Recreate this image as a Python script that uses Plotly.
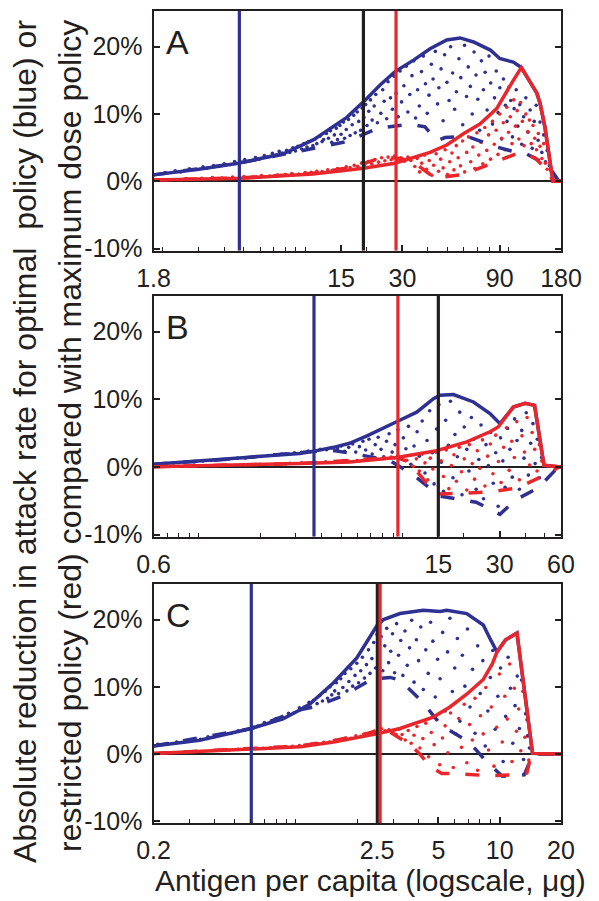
import math
import plotly.graph_objects as go

BLUE = "#2E3192"
RED = "#E8262B"
BLACK = "#231F20"
FONT = "Liberation Sans, Arial, sans-serif"

# ---------------- panel A ----------------
A_range = [1.8, 180]
A_ticks = [1.8, 15, 30, 90, 180]
A_vblue, A_vblack, A_vred = 4.75, 19.3, 27.9
A_blue_x = [1.8, 3.0, 4.7, 7.8, 11, 16, 19.3, 23.3, 27.6, 34, 41, 49.5, 57.5, 67, 81, 90, 105, 115, 137, 142, 150, 156, 162, 165, 180]
A_blue_y = [0.96, 1.8, 2.7, 4.1, 6.2, 9.5, 11.8, 14.3, 16.3, 18.0, 19.7, 21.0, 21.3, 20.7, 19.5, 18.25, 17.7, 16.9, 13.1, 11.6, 8.1, 4.2, 1.2, 0, 0]
A_bdash_x = [1.8, 4.7, 6.7, 7.5, 10.5, 16, 22.8, 32.7, 38.7, 44.3, 48.5, 62, 87, 103, 120, 142, 162.6, 176, 180]
A_bdash_y = [0.96, 2.7, 3.6, 3.9, 4.7, 5.9, 7.9, 8.5, 8.1, 6.0, 6.5, 6.7, 5.1, 4.5, 4.2, 3.0, 1.5, 0, 0]
A_red_x = [1.8, 4.8, 10.9, 19.3, 27.5, 34, 41, 49.5, 60, 72, 87, 105, 115, 137, 142, 150, 156, 162, 165, 180]
A_red_y = [0.2, 0.45, 1.1, 1.95, 2.7, 3.5, 4.3, 5.4, 7.1, 8.5, 10.8, 15.0, 16.9, 13.1, 11.6, 8.1, 4.2, 1.2, 0, 0]
A_rdash_x = [1.8, 4.8, 10.9, 16.6, 24.1, 29.2, 33.8, 38.7, 43.3, 59.5, 85.4, 113, 134, 157, 164, 180]
A_rdash_y = [0.2, 0.5, 1.2, 2.0, 3.6, 3.4, 2.9, 1.5, 0.5, 1.0, 2.9, 4.3, 3.5, 1.4, 0, 0]
A_blue_dots = [
    (2.05, 1.3), (2.3, 1.55), (2.45, 1.4), (2.7, 1.85), (2.9, 1.75), (3.15, 2.15), (3.3, 1.95), (3.55, 2.35),
    (3.75, 2.2), (4.0, 2.6), (4.3, 2.5), (4.5, 2.95), (4.85, 2.85), (5.05, 3.25), (5.4, 3.05), (5.7, 3.55),
    (5.95, 3.3), (6.3, 3.85), (6.55, 3.6), (6.9, 4.15), (7.2, 3.9), (7.45, 4.45),
    (7.7, 4.2), (8.1, 4.6), (8.4, 4.3), (8.7, 5.0), (8.95, 4.5), (9.2, 5.2), (9.6, 4.8), (9.85, 5.6), (10.2, 5.1),
    (10.4, 5.9), (10.9, 5.3), (11.2, 6.3), (11.4, 5.6), (11.8, 6.7), (12.1, 5.9), (12.3, 6.2), (12.7, 7.1),
    (13.0, 6.4), (13.3, 7.5), (13.5, 5.8), (13.9, 6.9), (14.2, 7.9), (14.4, 6.2), (14.8, 8.3), (15.0, 7.0),
    (15.4, 8.8), (15.6, 6.4), (15.9, 7.7), (16.3, 9.2), (16.6, 6.8), (17.0, 8.4), (17.3, 9.8), (17.6, 7.2),
    (18.0, 10.3), (18.3, 8.9), (18.7, 7.6), (19.0, 10.9), (19.4, 9.5), (19.8, 11.4), (20.1, 8.3), (20.5, 10.4),
    (20.9, 12.1), (21.3, 9.1), (21.8, 11.2), (22.2, 12.9), (22.6, 8.7),
    (23.5, 10.1), (24.0, 13.6), (24.4, 11.9), (25.1, 9.3), (25.5, 14.8), (26.2, 12.4), (26.8, 10.7), (27.3, 15.6),
    (27.9, 13.1), (28.6, 9.6), (29.2, 16.4), (29.7, 11.8), (30.5, 14.2), (31.3, 17.1), (31.9, 10.3), (32.6, 12.9),
    (33.4, 15.7), (34.1, 17.9), (34.8, 9.4), (35.6, 13.6), (36.3, 11.2), (37.2, 16.3), (38.0, 18.6), (38.9, 14.5),
    (39.7, 10.1), (40.5, 12.8), (41.6, 17.4), (42.4, 15.2), (43.5, 19.3), (44.6, 11.5), (45.3, 13.9), (46.4, 16.7),
    (47.5, 9.0), (48.3, 18.8), (49.6, 14.7), (50.8, 12.0), (51.7, 20.0), (52.9, 16.1), (54.1, 10.7), (55.2, 13.3),
    (56.8, 18.2), (58.0, 15.4), (59.3, 8.4), (60.5, 20.2), (61.9, 12.6), (63.1, 17.0), (64.6, 14.1), (66.0, 10.0),
    (67.4, 19.2), (68.9, 15.8), (70.3, 12.2), (71.8, 7.6), (73.2, 17.9), (74.9, 13.6), (76.4, 16.2), (78.1, 10.6),
    (79.8, 18.6), (81.3, 14.6), (83.0, 8.5), (84.9, 12.4), (86.6, 16.4), (88.4, 10.2), (90.2, 13.9), (92.1, 6.3),
    (93.9, 15.2), (96.0, 11.3), (97.8, 8.9), (100, 14.0), (102, 12.0), (104, 6.6), (106, 10.8), (108.5, 13.6),
    (110.5, 8.2), (113, 11.4), (115.5, 5.5), (118, 9.6), (121, 12.4), (124, 7.3), (127, 10.6), (130, 4.9),
    (133, 8.9), (136, 11.3), (139, 6.1), (142, 8.8), (145, 4.3), (148, 6.9), (151, 2.9), (154, 4.6), (158, 2.3),
    (161, 1.6),
]
A_red_dots = [
    (2.6, 0.4), (3.1, 0.45), (3.5, 0.55), (3.9, 0.5), (4.4, 0.65), (5.0, 0.7), (5.5, 0.65), (6.1, 0.85), (6.7, 0.8),
    (7.3, 0.95), (8.0, 1.0), (8.6, 1.15), (9.3, 1.1), (10.0, 1.3), (10.7, 1.35), (11.4, 1.5), (12.1, 1.45),
    (12.9, 1.7), (13.6, 1.65), (14.4, 1.9), (15.1, 1.85), (15.9, 2.15), (16.6, 2.05), (17.4, 2.4), (18.1, 2.25),
    (18.9, 2.7), (19.6, 2.45), (20.4, 2.95), (21.2, 2.6), (22.0, 3.25), (22.9, 2.85), (23.7, 3.5), (24.6, 3.05),
    (25.5, 3.6), (26.4, 3.2), (27.4, 3.75), (28.4, 3.3), (29.5, 3.5), (30.7, 3.0), (31.9, 3.6), (33.0, 3.1),
    (34.5, 2.2), (35.4, 3.4), (36.4, 1.4), (37.3, 2.7), (38.5, 3.9), (39.4, 1.8), (40.6, 3.1), (41.8, 0.9),
    (42.7, 2.4), (43.9, 4.1), (45.1, 1.5), (46.2, 3.3), (47.5, 2.0), (48.6, 4.7), (49.9, 1.0), (51.2, 2.9),
    (52.5, 4.2), (53.7, 1.7), (55.1, 5.3), (56.3, 3.5), (57.8, 2.3), (59.2, 6.0), (60.6, 1.4), (62.0, 4.3),
    (63.3, 6.6), (64.9, 2.9), (66.5, 5.1), (68.0, 1.9), (69.6, 7.2), (71.1, 3.9), (72.8, 5.8), (74.4, 2.6),
    (76.1, 8.0), (77.8, 4.6), (79.4, 6.9), (81.2, 3.3), (83.0, 8.9), (84.7, 5.5), (86.5, 7.6), (88.3, 4.0),
    (90.1, 10.0), (92.0, 6.4), (93.8, 8.7), (95.7, 4.7), (97.6, 11.0), (99.5, 7.3), (101.5, 9.6), (103.5, 5.6),
    (105.5, 12.1), (107.6, 8.2), (109.7, 10.5), (111.8, 6.3), (114, 11.7), (116.3, 8.9), (118.6, 5.3), (121, 10.0),
    (123.5, 7.4), (126, 9.1), (128.6, 5.6), (131.2, 8.3), (133.8, 6.4), (136.5, 4.7), (139.3, 7.1), (142, 5.2),
    (145, 3.4), (148, 5.6), (151, 2.7), (154, 1.8),
]

# ---------------- panel B ----------------
B_range = [0.6, 60]
B_ticks = [0.6, 15, 30, 60]
B_vblue, B_vblack, B_vred = 3.68, 15.0, 9.5
B_blue_x = [0.6, 1.47, 3.14, 3.64, 4.6, 5.5, 6.7, 9.7, 11.75, 14.2, 15.3, 17.8, 22.3, 26.9, 30.1, 35, 40, 44.5, 49.5, 60]
B_blue_y = [0.4, 1.2, 2.0, 2.3, 2.9, 3.5, 4.6, 6.9, 8.1, 10.1, 10.6, 10.7, 9.6, 7.9, 6.4, 8.85, 9.4, 9.1, 0.25, 0]
B_bdash_x = [0.6, 1.47, 3.64, 4.67, 5.65, 8.6, 11.1, 14.3, 15.3, 23.0, 30.1, 35.7, 46.3, 56.1, 60]
B_bdash_y = [0.4, 1.2, 2.3, 2.4, 2.0, 1.0, -1.0, -3.7, -4.3, -5.2, -7.0, -4.9, -3.1, -0.5, 0]
B_red_x = [0.6, 2.15, 3.14, 5.5, 9.37, 14.7, 20.7, 26.9, 29.5, 35, 40, 44.5, 49.5, 60]
B_red_y = [0.05, 0.35, 0.5, 0.75, 1.4, 2.4, 3.7, 5.2, 5.9, 8.85, 9.4, 9.1, 0.25, 0]
B_rdash_x = [0.6, 3.14, 9.37, 10.65, 12.2, 13.7, 15.3, 19.2, 26.9, 36.5, 50.1, 58.7, 60]
B_rdash_y = [0.05, 0.5, 1.4, 0.8, -1.2, -3.1, -4.0, -3.9, -3.7, -3.1, -1.2, 0, 0]
B_blue_dots = [
    (0.75, 0.6), (0.85, 0.7), (0.95, 0.75), (1.05, 0.9), (1.15, 0.95), (1.3, 1.1), (1.4, 1.15), (1.55, 1.3),
    (1.7, 1.35), (1.85, 1.5), (2.0, 1.55), (2.2, 1.7), (2.35, 1.75), (2.55, 1.9), (2.75, 1.95), (2.95, 2.1),
    (3.2, 2.15), (3.45, 2.35), (3.7, 2.4), (3.95, 2.6), (4.25, 2.55), (4.5, 2.8),
    (4.8, 2.7), (5.0, 3.1), (5.2, 2.3), (5.45, 2.9), (5.7, 3.4), (5.9, 2.2), (6.15, 3.0), (6.4, 3.8), (6.6, 2.5),
    (6.85, 4.1), (7.1, 1.9), (7.35, 3.3), (7.6, 4.4), (7.85, 2.6), (8.1, 1.5), (8.35, 3.8), (8.6, 4.9), (8.9, 2.2),
    (9.2, 3.3), (9.5, 5.5), (9.8, 1.3), (10.1, 4.3), (10.4, 2.7), (10.7, 6.0), (11.0, 0.4),
    (11.4, 3.1), (11.8, 5.2), (12.1, 1.6), (12.5, 6.8), (12.9, -0.9), (13.2, 3.9), (13.6, 8.3), (14.0, 2.1),
    (14.3, -2.5), (14.7, 5.6), (15.1, 9.2), (15.5, 0.7), (15.9, -3.6), (16.3, 6.9), (16.8, 3.2), (17.2, 9.7),
    (17.7, -1.6), (18.1, 4.8), (18.6, 1.5), (19.1, 8.1), (19.6, -4.1), (20.1, 5.9), (20.7, 2.6), (21.2, -0.6),
    (21.8, 7.3), (22.4, 4.1), (23.0, -3.3), (23.7, 1.1), (24.3, 6.2), (25.0, -4.7), (25.7, 3.3), (26.4, 0.2),
    (27.1, 5.1), (27.9, -2.4), (28.7, 2.1), (29.5, -5.8), (30.3, 4.3), (31.1, 0.9), (31.9, -3.0), (32.8, 5.7),
    (33.7, 2.6), (34.6, -1.5), (35.5, 7.1), (36.5, 3.9), (37.5, -3.3), (38.5, 5.4), (39.5, 1.3), (40.5, 8.0),
    (41.5, -1.2), (42.6, 3.5), (43.7, 6.4), (44.8, 0.5), (45.9, 4.1), (47.0, -1.6), (48.2, 1.4),
]
B_red_dots = [
    (1.6, 0.3), (2.0, 0.4), (2.4, 0.45), (2.8, 0.55), (3.2, 0.6), (3.7, 0.65), (4.2, 0.75), (4.8, 0.8), (5.4, 0.9),
    (6.0, 0.95), (6.7, 1.1), (7.4, 1.15), (8.1, 1.35), (8.8, 1.45), (9.5, 1.7), (10.1, 1.5),
    (10.5, 1.0), (10.9, 1.7), (11.3, 0.1), (11.7, 1.2), (12.1, -0.6), (12.5, 1.9), (12.9, 0.6), (13.3, -1.9),
    (13.7, 1.3), (14.1, -0.3), (14.6, 2.2), (15.0, -2.8), (15.5, 0.9), (15.9, -1.4), (16.4, 2.5), (16.9, -3.2),
    (17.4, 0.2), (17.9, 1.8), (18.4, -2.1), (19.0, 2.9), (19.5, -0.7), (20.1, 1.2), (20.7, -3.4), (21.3, 3.3),
    (22.0, 0.5), (22.6, -1.8), (23.3, 2.4), (24.0, -0.2), (24.7, 4.0), (25.4, -2.8), (26.2, 1.6), (27.0, 3.4),
    (27.8, -1.0), (28.7, 4.7), (29.6, 0.8), (30.5, -2.3), (31.4, 2.9), (32.4, 5.8), (33.4, -0.5), (34.4, 3.8),
    (35.4, 1.4), (36.4, 6.7), (37.5, -1.9), (38.6, 4.6), (39.7, 2.2), (40.9, 7.3), (42.1, 0.3), (43.3, 5.1),
    (44.6, 2.6), (45.8, -0.6), (47.0, 3.3), (48.3, 0.9),
]

# ---------------- panel C ----------------
C_range = [0.2, 20]
C_ticks = [0.2, 2.5, 5, 10, 20]
C_vblue, C_vblack, C_vred = 0.604, 2.51, 2.59
C_blue_x = [0.2, 0.337, 0.604, 0.864, 1.05, 1.17, 1.53, 1.99, 2.51, 2.69, 3.24, 4.22, 5.1, 5.5, 6.89, 8.31, 8.96, 9.7, 10.7, 12.16, 14.5, 20]
C_blue_y = [1.2, 2.05, 3.8, 5.25, 6.6, 7.45, 10.6, 14.3, 19.2, 20.0, 20.9, 21.4, 21.2, 21.4, 20.9, 19.2, 17.2, 15.2, 17.0, 18.0, 0.1, 0]
C_bdash_x = [0.2, 0.604, 1.05, 1.22, 1.71, 2.35, 2.9, 3.24, 4.2, 5.15, 7.07, 8.67, 10.3, 13.2, 14.6, 20]
C_bdash_y = [1.2, 3.8, 6.6, 7.0, 8.7, 11.1, 11.4, 11.0, 7.7, 4.3, 1.8, -1.2, -3.3, -3.1, 0, 0]
C_red_x = [0.2, 0.604, 1.05, 1.53, 2.49, 3.24, 4.72, 5.7, 6.89, 8.31, 9.2, 9.7, 10.7, 12.16, 14.5, 20]
C_red_y = [0.1, 0.7, 1.07, 1.8, 3.0, 3.8, 5.5, 7.0, 8.9, 11.1, 13.4, 15.2, 17.0, 18.0, 0.1, 0]
C_rdash_x = [0.2, 0.6, 1.05, 1.53, 2.2, 2.69, 3.0, 3.59, 4.0, 4.6, 5.2, 6.1, 8.57, 12.7, 13.6, 14.3, 20]
C_rdash_y = [0.1, 0.75, 1.2, 2.0, 3.0, 3.8, 3.0, 1.5, 0.2, -1.9, -2.9, -2.9, -3.2, -3.1, -2.8, 0, 0]
C_blue_dots = [
    (0.21, 1.45), (0.235, 1.55), (0.26, 1.8), (0.285, 1.85), (0.31, 2.15), (0.34, 2.2), (0.37, 2.55), (0.4, 2.6),
    (0.44, 2.95), (0.48, 3.05), (0.52, 3.45), (0.56, 3.55), (0.61, 4.1), (0.65, 4.15), (0.7, 4.7), (0.75, 4.75),
    (0.8, 5.3), (0.86, 5.45), (0.92, 6.05), (0.98, 6.15), (1.04, 6.9), (1.1, 7.0), (1.16, 7.7),
    (1.22, 8.0), (1.27, 7.5), (1.31, 8.7), (1.35, 7.9), (1.39, 9.3), (1.43, 8.3), (1.47, 10.0), (1.5, 8.8),
    (1.55, 9.4), (1.58, 10.6), (1.62, 9.0), (1.66, 11.2), (1.7, 9.9), (1.74, 12.0), (1.78, 9.4), (1.82, 10.8),
    (1.86, 12.7), (1.9, 10.1), (1.95, 11.7), (1.99, 13.5), (2.03, 10.6), (2.08, 12.4), (2.12, 14.4), (2.17, 11.3),
    (2.22, 13.3), (2.27, 15.5), (2.31, 12.0), (2.36, 14.2), (2.41, 16.6), (2.46, 12.8), (2.5, 17.8),
    (2.56, 14.8), (2.62, 17.5), (2.67, 12.4), (2.73, 16.1), (2.79, 18.7), (2.85, 13.6), (2.92, 15.3), (2.98, 17.9),
    (3.05, 12.1), (3.12, 19.4), (3.19, 14.7), (3.27, 16.9), (3.35, 11.7), (3.43, 18.3), (3.52, 13.2), (3.61, 15.8),
    (3.7, 19.9), (3.8, 10.7), (3.9, 17.0), (4.0, 13.9), (4.1, 18.9), (4.22, 9.6), (4.34, 15.5), (4.46, 12.0),
    (4.58, 19.6), (4.7, 16.8), (4.83, 8.5), (4.96, 14.1), (5.1, 11.2), (5.25, 18.1), (5.4, 6.4), (5.55, 15.2),
    (5.7, 20.2), (5.86, 9.3), (6.02, 12.8), (6.2, 17.2), (6.38, 4.9), (6.56, 14.7), (6.75, 10.1), (6.95, 18.6),
    (7.15, 7.0), (7.36, 12.6), (7.57, 3.1), (7.8, 16.1), (8.03, 9.0), (8.27, 13.9), (8.5, 1.2), (8.75, 6.4),
    (9.0, 11.4), (9.25, 15.4), (9.5, 3.7), (9.8, 8.6), (10.1, 12.8), (10.4, -1.1), (10.7, 5.6), (11.0, 14.4),
    (11.3, 9.8), (11.6, 1.6), (11.9, 7.2), (12.2, 11.6), (12.5, 3.8), (12.8, 11.0), (13.1, -0.8), (13.4, 6.0),
    (13.7, 2.7), (14.0, 0.9),
]
C_red_dots = [
    (0.42, 0.55), (0.47, 0.6), (0.52, 0.7), (0.57, 0.75), (0.63, 0.8), (0.69, 0.85), (0.75, 0.95), (0.82, 1.0),
    (0.89, 1.1), (0.96, 1.15), (1.04, 1.25), (1.12, 1.35), (1.2, 1.5), (1.28, 1.55), (1.37, 1.75), (1.46, 1.8),
    (1.56, 2.05), (1.66, 2.1), (1.76, 2.4), (1.86, 2.35), (1.97, 2.7), (2.08, 2.65), (2.19, 3.05), (2.3, 2.95),
    (2.41, 3.4), (2.52, 3.25), (2.63, 3.75), (2.74, 3.45), (2.86, 3.6),
    (3.0, 3.3), (3.1, 2.9), (3.2, 3.7), (3.32, 2.9), (3.44, 2.1), (3.56, 3.5), (3.68, 1.6), (3.8, 2.8), (3.93, 4.1),
    (4.06, 0.9), (4.2, 2.3), (4.34, 4.6), (4.48, -0.4), (4.62, 3.2), (4.77, 1.4), (4.92, 5.1), (5.08, -1.6),
    (5.24, 2.4), (5.4, 4.2), (5.57, 0.2), (5.74, 6.1), (5.92, -2.0), (6.1, 3.0), (6.3, 5.3), (6.5, 1.0),
    (6.7, 7.4), (6.9, -1.3), (7.12, 4.4), (7.34, 2.1), (7.57, 8.3), (7.8, -2.4), (8.05, 5.7), (8.3, 3.0),
    (8.55, 9.9), (8.82, 0.6), (9.1, 7.0), (9.38, -1.8), (9.67, 4.0), (9.97, 11.9), (10.3, 1.8), (10.6, 8.6),
    (10.9, 5.2), (11.2, 13.4), (11.5, -1.1), (11.8, 9.8), (12.1, 3.4), (12.4, 6.7), (12.7, 0.5), (13.0, 9.3),
    (13.3, 2.5), (13.6, 5.1), (13.9, -0.9),
]

Y_RANGE = [-10.3, 25.3]
Y_TICKS = [-10, 0, 10, 20]
Y_TICKTEXT = ["-10%", "0%", "10%", "20%"]

W, H = 599, 901
OFF = 8  # the page body margin shifts the whole figure by 8px
X_DOMAIN = [(153.5 - OFF) / W, (561 - OFF) / W]
PANELS = [
    dict(letter="A", top=11, bottom=250.7, rng=A_range, ticks=A_ticks, v=(A_vblue, A_vblack, A_vred),
         blue=(A_blue_x, A_blue_y), bdash=(A_bdash_x, A_bdash_y), red=(A_red_x, A_red_y),
         rdash=(A_rdash_x, A_rdash_y), bdots=A_blue_dots, rdots=A_red_dots),
    dict(letter="B", top=295.7, bottom=536.7, rng=B_range, ticks=B_ticks, v=(B_vblue, B_vblack, B_vred),
         blue=(B_blue_x, B_blue_y), bdash=(B_bdash_x, B_bdash_y), red=(B_red_x, B_red_y),
         rdash=(B_rdash_x, B_rdash_y), bdots=B_blue_dots, rdots=B_red_dots),
    dict(letter="C", top=584, bottom=823.3, rng=C_range, ticks=C_ticks, v=(C_vblue, C_vblack, C_vred),
         blue=(C_blue_x, C_blue_y), bdash=(C_bdash_x, C_bdash_y), red=(C_red_x, C_red_y),
         rdash=(C_rdash_x, C_rdash_y), bdots=C_blue_dots, rdots=C_red_dots),
]


def px(x):
    return (x - OFF) / W


def py(y):
    return 1 - (y - OFF) / H


def minor_vals(lo, hi):
    # matlab-style minor ticks at 1..9 x 10^k
    vals = []
    for k in range(-2, 4):
        for m in range(1, 10):
            v = m * 10 ** k
            if lo < v < hi:
                vals.append(v)
    return vals


fig = go.Figure()
layout = dict(
    width=W, height=H, margin=dict(l=0, r=0, t=0, b=0),
    paper_bgcolor="white", plot_bgcolor="white", showlegend=False,
    font=dict(family=FONT, color=BLACK),
)
annotations = []

for i, p in enumerate(PANELS):
    sfx = "" if i == 0 else str(i + 1)
    xa, ya = "x" + sfx, "y" + sfx
    dash = "14px,16px"

    def add(x, y, **kw):
        fig.add_trace(go.Scatter(x=x, y=y, xaxis=xa, yaxis=ya, hoverinfo="skip", **kw))

    bx, by = zip(*p["bdots"])
    rx, ry = zip(*p["rdots"])
    add(list(bx), list(by), mode="markers", marker=dict(size=3.6, color=BLUE))
    add(list(rx), list(ry), mode="markers", marker=dict(size=3.6, color=RED))
    add(*p["bdash"], mode="lines", line=dict(color=BLUE, width=3.5, dash=dash))
    add(*p["rdash"], mode="lines", line=dict(color=RED, width=3.5, dash=dash))
    add(*p["blue"], mode="lines", line=dict(color=BLUE, width=3.5))
    add(*p["red"], mode="lines", line=dict(color=RED, width=3.5))
    vb, vk, vr = p["v"]
    for v, c in ((vb, BLUE), (vk, BLACK), (vr, RED)):
        add([v, v], Y_RANGE, mode="lines", line=dict(color=c, width=3.2))

    lo, hi = p["rng"]
    layout["xaxis" + sfx] = dict(
        type="log", range=[math.log10(lo), math.log10(hi)], domain=X_DOMAIN, anchor=ya, automargin=False,
        tickmode="array", tickvals=p["ticks"], ticktext=[f"{t:g}" for t in p["ticks"]],
        ticks="inside", ticklen=6, tickwidth=1.5, tickcolor=BLACK,
        minor=dict(tickmode="array", tickvals=minor_vals(lo, hi), ticks="inside", ticklen=4,
                   tickwidth=1.2, tickcolor=BLACK),
        showline=True, linecolor=BLACK, linewidth=2, mirror=True, showgrid=False, zeroline=False,
        tickfont=dict(size=25, family=FONT, color=BLACK), ticklabelstandoff=4,
    )
    layout["yaxis" + sfx] = dict(
        range=Y_RANGE, domain=[py(p["bottom"]), py(p["top"])], anchor=xa, automargin=False,
        tickmode="array", tickvals=Y_TICKS, ticktext=Y_TICKTEXT,
        ticks="inside", ticklen=6, tickwidth=1.5, tickcolor=BLACK,
        showline=True, linecolor=BLACK, linewidth=2, mirror="ticks", showgrid=False,
        zeroline=True, zerolinecolor=BLACK, zerolinewidth=2,
        tickfont=dict(size=25, family=FONT, color=BLACK), ticklabelstandoff=4,
    )
    annotations.append(dict(
        text=p["letter"], xref="paper", yref="paper", x=px(164), y=py(p["top"] + 31),
        xanchor="left", yanchor="middle", showarrow=False, font=dict(size=34, family=FONT, color=BLACK),
    ))

annotations += [
    dict(text="Absolute reduction in attack rate for optimal  policy (blue) or", xref="paper", yref="paper",
         x=px(25), y=py(442), textangle=-90, xanchor="center", yanchor="middle", showarrow=False,
         font=dict(size=32, family=FONT, color=BLACK)),
    dict(text="restricted policy (red) compared with maximum dose policy", xref="paper", yref="paper",
         x=px(70), y=py(436), textangle=-90, xanchor="center", yanchor="middle", showarrow=False,
         font=dict(size=32, family=FONT, color=BLACK)),
    dict(text="Antigen per capita (logscale, μg)", xref="paper", yref="paper",
         x=px(370), y=py(880), xanchor="center", yanchor="middle", showarrow=False,
         font=dict(size=30, family=FONT, color=BLACK)),
]
layout["annotations"] = annotations
fig.update_layout(**layout)
fig.write_html("out.html")
